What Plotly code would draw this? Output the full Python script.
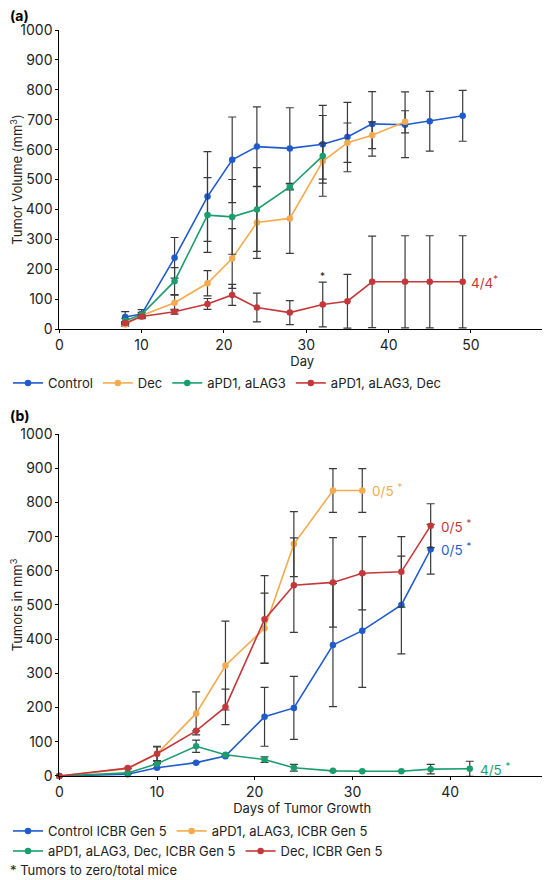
import plotly.graph_objects as go

# ---- panel (a) data ----
a_ctrl_x = [8, 10, 14, 18, 21, 24, 28, 32, 35, 38, 42, 45, 49]
a_ctrl_y = [40, 50, 238, 443, 566, 610, 604, 618, 642, 686, 683, 695, 713]
a_ctrl_e = [18, 15, 68, 150, 143, 133, 136, 130, 116, 108, 110, 100, 85]

a_dec_x = [8, 10, 14, 18, 21, 24, 28, 32, 35, 38, 42]
a_dec_y = [15, 45, 88, 153, 236, 356, 370, 561, 623, 648, 693]
a_dec_e = [5, 5, 25, 42, 100, 120, 117, 60, 66, 45, 37]

a_pd_x = [8, 10, 14, 18, 21, 24, 28, 32]
a_pd_y = [28, 48, 160, 381, 375, 400, 475, 579]
a_pd_e = [8, 8, 45, 125, 125, 140, 10, 135]

a_pdd_x = [8, 10, 14, 18, 21, 24, 28, 32, 35, 38, 42, 45, 49]
a_pdd_y = [20, 42, 58, 84, 114, 72, 55, 82, 93, 158, 158, 158, 158]
a_pdd_e = [5, 5, 8, 18, 35, 48, 40, 75, 90, 153, 154, 154, 154]

# ---- panel (b) data ----
b_ctrl_x = [0, 7, 10, 14, 17, 21, 24, 28, 31, 35, 38]
b_ctrl_y = [0, 5, 24, 39, 58, 173, 199, 383, 425, 500, 663]
b_ctrl_e = [0, 0, 0, 0, 0, 86, 92, 180, 166, 143, 73]

b_pd_x = [0, 7, 10, 14, 17, 21, 24, 28, 31]
b_pd_y = [0, 21, 65, 183, 323, 432, 678, 835, 835]
b_pd_e = [0, 0, 22, 63, 130, 103, 95, 64, 64]

b_pdd_x = [0, 7, 10, 14, 17, 21, 24, 28, 31, 35, 38, 42]
b_pdd_y = [0, 9, 36, 87, 62, 48, 24, 15, 14, 14, 20, 21]
b_pdd_e = [0, 0, 0, 18, 0, 8, 10, 0, 0, 0, 14, 22]

b_dec_x = [0, 7, 10, 14, 17, 21, 24, 28, 31, 35, 38]
b_dec_y = [0, 23, 65, 132, 202, 458, 558, 566, 593, 597, 732]
b_dec_e = [0, 0, 20, 0, 52, 128, 138, 131, 107, 103, 64]

BLUE = "#1f5bcc"
ORANGE = "#f5ab4d"
GREEN = "#1a9e6e"
RED = "#c4383b"
ERR = "#3a3a3a"
FONT = "Inter"

fig = go.Figure()


def add(x, y, e, name, color, xa, ya, legend):
    fig.add_trace(go.Scatter(
        x=x, y=y, name=name, mode="lines+markers",
        line=dict(color=color, width=1.6),
        marker=dict(color=color, size=6.5),
        error_y=dict(type="data", array=e, color=ERR, thickness=1.2, width=4),
        xaxis=xa, yaxis=ya, legend=legend, cliponaxis=False,
    ))


add(a_ctrl_x, a_ctrl_y, a_ctrl_e, "Control", BLUE, "x", "y", "legend")
add(a_dec_x, a_dec_y, a_dec_e, "Dec", ORANGE, "x", "y", "legend")
add(a_pd_x, a_pd_y, a_pd_e, "aPD1, aLAG3", GREEN, "x", "y", "legend")
add(a_pdd_x, a_pdd_y, a_pdd_e, "aPD1, aLAG3, Dec", RED, "x", "y", "legend")

add(b_ctrl_x, b_ctrl_y, b_ctrl_e, "Control ICBR Gen 5", BLUE, "x2", "y2", "legend2")
add(b_pd_x, b_pd_y, b_pd_e, "aPD1, aLAG3, ICBR Gen 5", ORANGE, "x2", "y2", "legend2")
add(b_pdd_x, b_pdd_y, b_pdd_e, "aPD1, aLAG3, Dec, ICBR Gen 5", GREEN, "x2", "y2", "legend3")
add(b_dec_x, b_dec_y, b_dec_e, "Dec, ICBR Gen 5", RED, "x2", "y2", "legend3")

axis_common = dict(
    showline=True, linecolor="black", linewidth=1, ticks="outside",
    ticklen=3, tickcolor="black", showgrid=False, zeroline=False,
    tickfont=dict(size=14, color="#222"), automargin=False,
)

leg_common = dict(orientation="h", x=0, xanchor="left", yanchor="middle",
                  font=dict(size=13), itemwidth=30, tracegroupgap=0,
                  bgcolor="rgba(0,0,0,0)")

# the page adds an 8px offset, so positions are set 8px up/left of the target
fig.update_layout(
    width=550, height=880,
    margin=dict(l=0, r=0, t=0, b=0),
    paper_bgcolor="white", plot_bgcolor="white",
    font=dict(family=FONT, color="#222"),
    xaxis=dict(domain=[0.0933, 0.9764], range=[0, 59], dtick=10, anchor="y",
               title=dict(text="Day", font=dict(size=13), standoff=2),
               **axis_common),
    yaxis=dict(domain=[0.6352, 0.975], range=[0, 1000], dtick=100, anchor="x",
               title=dict(text="Tumor Volume (mm<sup>3</sup>)", font=dict(size=13), standoff=0),
               **axis_common),
    xaxis2=dict(domain=[0.0933, 0.9764], range=[0, 49.7], dtick=10, anchor="y2",
                title=dict(text="Days of Tumor Growth", font=dict(size=13), standoff=2),
                **axis_common),
    yaxis2=dict(domain=[0.1273, 0.5159], range=[0, 1000], dtick=100, anchor="x2",
                title=dict(text="Tumors in mm<sup>3</sup>", font=dict(size=13), standoff=0),
                **axis_common),
    legend=dict(y=0.5739, **leg_common),
    legend2=dict(y=0.0648, **leg_common),
    legend3=dict(y=0.0420, **leg_common),
)

ann = [
    dict(text="<b>(a)</b>", x=0.0, y=0.9915, size=14, color="black"),
    dict(text="<b>(b)</b>", x=0.0, y=0.5364, size=14, color="black"),
    dict(text="* Tumors to zero/total mice", x=0.0, y=0.0205, size=13, color="#222"),
]
for a in ann:
    fig.add_annotation(text=a["text"], x=a["x"], y=a["y"], xref="paper", yref="paper",
                       xanchor="left", yanchor="middle", showarrow=False,
                       font=dict(size=a["size"], color=a["color"]))

# end-of-line labels
fig.add_annotation(text="4/4<sup>*</sup>", x=a_pdd_x[-1], y=a_pdd_y[-1], xref="x", yref="y",
                   xanchor="left", xshift=6, showarrow=False, font=dict(size=13.5, color=RED))
fig.add_annotation(text="*", x=a_pdd_x[7], y=a_pdd_y[7] + a_pdd_e[7], xref="x", yref="y",
                   yanchor="bottom", yshift=-2, showarrow=False, font=dict(size=10, color="#222"))
fig.add_annotation(text="0/5 <sup>*</sup>", x=b_pd_x[-1], y=b_pd_y[-1], xref="x2", yref="y2",
                   xanchor="left", xshift=8, showarrow=False, font=dict(size=13.5, color=ORANGE))
fig.add_annotation(text="0/5 <sup>*</sup>", x=b_dec_x[-1], y=b_dec_y[-1], xref="x2", yref="y2",
                   xanchor="left", xshift=8, showarrow=False, font=dict(size=13.5, color=RED))
fig.add_annotation(text="0/5 <sup>*</sup>", x=b_ctrl_x[-1], y=b_ctrl_y[-1], xref="x2", yref="y2",
                   xanchor="left", xshift=8, showarrow=False, font=dict(size=13.5, color=BLUE))
fig.add_annotation(text="4/5 <sup>*</sup>", x=b_pdd_x[-1], y=b_pdd_y[-1], xref="x2", yref="y2",
                   xanchor="left", xshift=8, showarrow=False, font=dict(size=13.5, color=GREEN))

fig.write_html("out.html")
